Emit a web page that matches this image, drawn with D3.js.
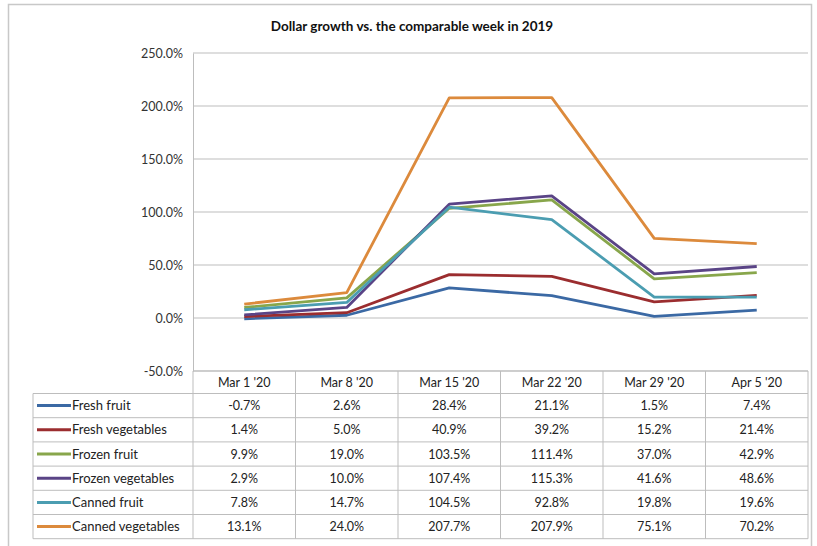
<!DOCTYPE html>
<html><head><meta charset="utf-8">
<script src="https://cdn.jsdelivr.net/npm/d3@7"></script>
<style>body{margin:0;background:#fff;}svg{display:block;font-family:Lato,"Open Sans",sans-serif;}</style>
</head><body><svg id="c" width="817" height="546"></svg>
<script>
const title = "Dollar growth vs. the comparable week in 2019";
const weeks = ["Mar 1 '20","Mar 8 '20","Mar 15 '20","Mar 22 '20","Mar 29 '20","Apr 5 '20"];
const seriesNames = ["Fresh fruit","Fresh vegetables","Frozen fruit","Frozen vegetables","Canned fruit","Canned vegetables"];
const freshFruit = [-0.7, 2.6, 28.4, 21.1, 1.5, 7.4];
const freshVeg = [1.4, 5.0, 40.9, 39.2, 15.2, 21.4];
const frozenFruit = [9.9, 19.0, 103.5, 111.4, 37.0, 42.9];
const frozenVeg = [2.9, 10.0, 107.4, 115.3, 41.6, 48.6];
const cannedFruit = [7.8, 14.7, 104.5, 92.8, 19.8, 19.6];
const cannedVeg = [13.1, 24.0, 207.7, 207.9, 75.1, 70.2];
const yTicks = [-50, 0, 50, 100, 150, 200, 250];
const colors = ["#3b69a4","#9b2d2f","#88a64b","#5a4486","#4b9db1","#dc8a3c"];
const values = [freshFruit, freshVeg, frozenFruit, frozenVeg, cannedFruit, cannedVeg];

const pct = v => d3.format(".1f")(v).replace("\u2212","-") + "%";

const svg = d3.select("#c");
const L = 193, R = 808, T = 53, B = 371;
const legL = 33;
const rowH = 24.2, headH = 22.5;

// outer border
svg.append("rect").attr("x",8.5).attr("y",4.5).attr("width",803).attr("height",560)
  .attr("fill","none").attr("stroke","#c8c8c8").attr("stroke-width",1.5);

svg.append("text").attr("x",412).attr("y",31).attr("text-anchor","middle")
  .attr("font-size",13.5).attr("font-weight","bold").attr("fill","#111").text(title);

const y = d3.scaleLinear().domain([-50,250]).range([B,T]);
const x = d3.scaleBand().domain(weeks).range([L,R]);

// gridlines
svg.append("g").selectAll("line").data(yTicks).join("line")
  .attr("x1",L).attr("x2",R).attr("y1",d=>y(d)).attr("y2",d=>y(d))
  .attr("stroke","#bdbdbd").attr("stroke-width",1.2);

// y axis
const yAxis = d3.axisLeft(y).tickValues(yTicks).tickSize(0).tickPadding(10).tickFormat(pct);
const gy = svg.append("g").attr("transform",`translate(${L},0)`).call(yAxis);
gy.select(".domain").attr("stroke","#bdbdbd");
gy.selectAll("text").attr("font-size",12.5).attr("fill","#333").attr("font-family","Lato,sans-serif");

// lines
const line = d3.line().x((d,i)=>x(weeks[i])+x.bandwidth()/2).y(d=>y(d));
values.forEach((v,k)=>{
  svg.append("path").datum(v).attr("d",line).attr("fill","none")
    .attr("stroke",colors[k]).attr("stroke-width",2.8).attr("stroke-linejoin","round");
});

// table
const tb = svg.append("g");
const gridC = "#bdbdbd";
const rowsTop = B + headH;
const tableBottom = rowsTop + rowH*6;
tb.append("line").attr("x1",L).attr("x2",R).attr("y1",B).attr("y2",B).attr("stroke",gridC);
for(let i=0;i<=6;i++){
  const yy = rowsTop + i*rowH;
  tb.append("line").attr("x1",legL).attr("x2",R).attr("y1",yy).attr("y2",yy).attr("stroke",gridC);
}
tb.append("line").attr("x1",legL).attr("x2",legL).attr("y1",rowsTop).attr("y2",tableBottom).attr("stroke",gridC);
weeks.forEach((w,i)=>{
  const xx = x(w);
  tb.append("line").attr("x1",xx).attr("x2",xx).attr("y1",B).attr("y2",tableBottom).attr("stroke",gridC);
});
tb.append("line").attr("x1",R).attr("x2",R).attr("y1",B).attr("y2",tableBottom).attr("stroke",gridC);

tb.selectAll("text.h").data(weeks).join("text").attr("class","h")
  .attr("x",d=>x(d)+x.bandwidth()/2).attr("y",B+headH/2+4.5).attr("text-anchor","middle")
  .attr("font-size",12.5).attr("fill","#222").text(d=>d);

seriesNames.forEach((name,k)=>{
  const cy = rowsTop + k*rowH + rowH/2;
  tb.append("line").attr("x1",legL+4).attr("x2",legL+38).attr("y1",cy).attr("y2",cy)
    .attr("stroke",colors[k]).attr("stroke-width",3);
  tb.append("text").attr("x",legL+39).attr("y",cy+4.5).attr("font-size",13).attr("fill","#222").text(name);
  values[k].forEach((v,i)=>{
    tb.append("text").attr("x",x(weeks[i])+x.bandwidth()/2).attr("y",cy+4.5)
      .attr("text-anchor","middle").attr("font-size",12.5).attr("fill","#222")
      .text(pct(v));
  });
});
</script></body></html>
